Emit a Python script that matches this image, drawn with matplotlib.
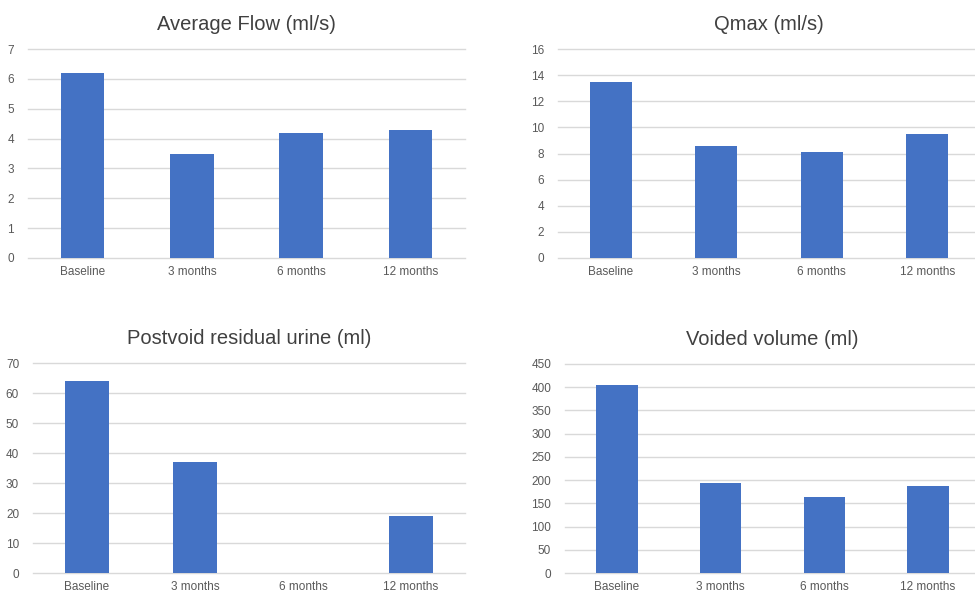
import matplotlib
matplotlib.use("Agg")
import matplotlib.pyplot as plt
import numpy as np

plt.rcParams['font.family'] = ['Liberation Sans', 'DejaVu Sans']

categories = ['Baseline', '3 months', '6 months', '12 months']
avg_flow = [6.2, 3.5, 4.2, 4.3]
qmax = [13.5, 8.6, 8.1, 9.5]
pvr = [64, 37, np.nan, 19]
voided = [405, 193, 163, 187]

titles = ['Average Flow (ml/s)', 'Qmax (ml/s)',
          'Postvoid residual urine (ml)', 'Voided volume (ml)']
series = [avg_flow, qmax, pvr, voided]
yticks = [np.arange(0, 8, 1), np.arange(0, 17, 2),
          np.arange(0, 71, 10), np.arange(0, 451, 50)]

W, H = 975, 593
# axes boxes in pixels: left, top, right, bottom
boxes = [(28, 49, 465, 258), (558, 49, 980, 258),
         (33, 363, 465, 573), (565, 364, 980, 573)]

bar_color = '#4472C4'
grid_color = '#d9d9d9'
text_color = '#595959'

fig = plt.figure(figsize=(W / 100, H / 100), dpi=100)

for box, title, vals, ticks in zip(boxes, titles, series, yticks):
    l, t, r, b = box
    ax = fig.add_axes([l / W, (H - b) / H, (r - l) / W, (b - t) / H])
    x = np.arange(len(categories))
    ax.bar(x, vals, width=0.4, color=bar_color, zorder=3)
    ax.set_xlim(-0.5, 3.5)
    ax.set_ylim(0, ticks[-1])
    ax.set_yticks(ticks)
    ax.set_xticks(x)
    ax.set_xticklabels(categories)
    ax.yaxis.grid(True, color=grid_color, linewidth=1, zorder=0)
    for gl in ax.yaxis.get_gridlines():
        gl.set_clip_on(False)
    ax.set_axisbelow(True)
    for s in ax.spines.values():
        s.set_visible(False)
    ax.tick_params(length=0, labelsize=8.5, colors=text_color, pad=6)
    ax.tick_params(axis='y', pad=10)
    ax.set_title(title, fontsize=14.5, color='#404040', pad=14)

fig.savefig('out.png', dpi=100, facecolor='white')
